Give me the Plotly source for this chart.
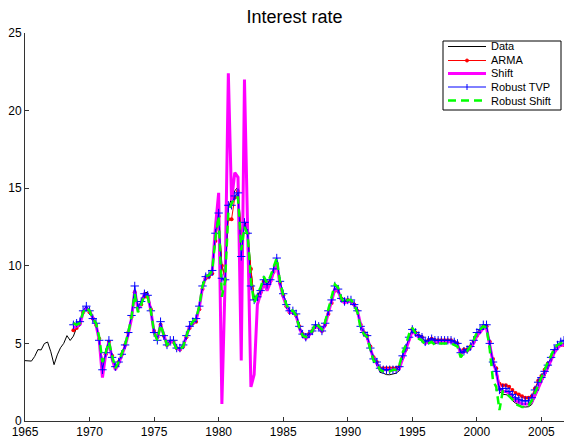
import plotly.graph_objects as go

# ---------------- data (quarterly, first quarter plotted at year.0) ----------------
first_year = 1965
last_year = 2006

data_rate = [
    3.89, 3.87, 3.86, 4.16,   # 1965
    4.60, 4.58, 4.99, 5.09,   # 1966
    4.46, 3.63, 4.26, 4.72,   # 1967
    5.00, 5.50, 5.19, 5.47,   # 1968
    6.02, 6.12, 7.02, 7.36,   # 1969
    7.20, 6.65, 6.33, 5.35,   # 1970
    3.84, 4.25, 5.01, 4.23,   # 1971
    3.44, 3.75, 4.24, 4.85,   # 1972
    5.64, 6.61, 8.39, 7.47,   # 1973
    7.60, 8.27, 8.29, 7.34,   # 1974
    5.88, 5.40, 6.34, 5.68,   # 1975
    4.95, 5.17, 5.17, 4.70,   # 1976
    4.62, 4.84, 5.50, 6.11,   # 1977
    6.39, 6.48, 7.32, 8.68,   # 1978
    9.36, 9.37, 9.63, 11.80,  # 1979
    13.46, 10.05, 9.24, 13.71,  # 1980
    14.37, 14.83, 15.09, 12.02,  # 1981
    12.89, 12.36, 9.71, 7.93,  # 1982
    8.08, 8.42, 9.19, 8.79,   # 1983
    9.13, 9.84, 10.34, 8.97,  # 1984
    8.18, 7.52, 7.10, 7.15,   # 1985
    6.89, 6.13, 5.53, 5.34,   # 1986
    5.53, 5.73, 6.03, 6.00,   # 1987
    5.76, 6.23, 6.99, 7.70,   # 1988
    8.53, 8.44, 7.85, 7.64,   # 1989
    7.76, 7.77, 7.49, 7.02,   # 1990
    6.05, 5.59, 5.41, 4.58,   # 1991
    3.91, 3.72, 3.13, 3.08,   # 1992
    2.99, 2.98, 3.02, 3.08,   # 1993
    3.25, 4.04, 4.51, 5.28,   # 1994
    5.78, 5.62, 5.38, 5.27,   # 1995
    4.95, 5.04, 5.14, 4.97,   # 1996
    5.06, 5.07, 5.06, 5.09,   # 1997
    5.08, 5.01, 4.88, 4.31,   # 1998
    4.42, 4.46, 4.70, 5.03,   # 1999
    5.52, 5.71, 6.02, 6.02,   # 2000
    4.82, 3.66, 3.17, 1.91,   # 2001
    1.72, 1.70, 1.63, 1.32,   # 2002
    1.15, 1.04, 0.92, 0.90,   # 2003
    0.92, 1.06, 1.49, 2.01,   # 2004
    2.51, 2.86, 3.36, 3.83,   # 2005
    4.38, 4.70, 4.91, 4.91,   # 2006
]

# model forecasts start at 1968 Q4
model_start = 1968.75

arma = [
    5.85,
    6.0, 6.3, 7.0, 7.2,
    7.0, 6.6, 6.2, 5.3,
    3.6, 4.3, 5.1, 4.2,
    3.5, 3.8, 4.3, 4.9,
    5.7, 6.7, 8.3, 7.3,
    7.5, 8.0, 8.0, 7.2,
    5.8, 5.4, 6.2, 5.5,
    4.9, 5.1, 5.1, 4.7,
    4.6, 4.8, 5.4, 6.0,
    6.3, 6.4, 7.2, 8.5,
    9.2, 9.3, 9.5, 11.6,
    13.2, 10.0, 9.1, 13.0,
    13.0, 14.4, 14.8, 12.0,
    12.6, 12.1, 9.8, 7.9,
    8.0, 8.3, 9.0, 8.7,
    9.0, 9.6, 10.1, 8.9,
    8.1, 7.4, 7.0, 7.0,
    6.8, 6.1, 5.6, 5.4,
    5.6, 5.8, 6.1, 6.1,
    5.8, 6.2, 6.9, 7.6,
    8.4, 8.4, 7.9, 7.7,
    7.8, 7.7, 7.5, 7.1,
    6.2, 5.7, 5.5, 4.8,
    4.1, 3.8, 3.4, 3.4,
    3.4, 3.4, 3.4, 3.4,
    3.5, 4.1, 4.6, 5.3,
    5.9, 5.7, 5.5, 5.4,
    5.1, 5.2, 5.3, 5.2,
    5.2, 5.2, 5.2, 5.2,
    5.2, 5.1, 5.0, 4.5,
    4.6, 4.6, 4.8, 5.1,
    5.5, 5.8, 6.1, 6.1,
    5.1, 4.0, 3.4, 2.4,
    2.3, 2.3, 2.2, 2.0,
    1.8, 1.7, 1.6, 1.5,
    1.5, 1.6, 2.1, 2.6,
    2.9, 3.3, 3.7, 4.1,
    4.5, 4.8, 4.9, 4.9,
]

shift = [
    6.0,
    6.1, 6.2, 7.0, 7.3,
    7.1, 6.6, 6.2, 5.2,
    2.8, 4.3, 5.1, 4.0,
    3.3, 3.7, 4.2, 4.8,
    5.6, 6.6, 8.4, 7.2,
    7.6, 8.2, 8.1, 7.1,
    5.7, 5.3, 6.2, 5.6,
    4.9, 5.1, 5.1, 4.7,
    4.6, 4.8, 5.4, 6.1,
    6.3, 6.5, 7.3, 8.6,
    9.3, 9.4, 9.6, 12.5,
    14.7, 1.1, 9.0, 22.4,
    14.2, 16.0, 15.7, 3.9,
    22.0, 12.0, 2.2, 3.0,
    7.5, 8.2, 8.9, 8.4,
    8.9, 9.6, 10.2, 8.8,
    8.0, 7.4, 7.0, 7.0,
    6.8, 6.0, 5.5, 5.3,
    5.5, 5.8, 6.1, 6.0,
    5.8, 6.2, 7.0, 7.7,
    8.5, 8.4, 7.8, 7.6,
    7.7, 7.7, 7.5, 7.1,
    6.2, 5.6, 5.4, 4.7,
    4.0, 3.7, 3.3, 3.3,
    3.3, 3.3, 3.3, 3.3,
    3.4, 4.0, 4.5, 5.2,
    5.8, 5.6, 5.4, 5.3,
    5.0, 5.1, 5.2, 5.1,
    5.1, 5.1, 5.1, 5.1,
    5.1, 5.0, 4.9, 4.4,
    4.5, 4.5, 4.7, 5.0,
    5.5, 5.7, 6.0, 6.0,
    4.9, 3.8, 3.2, 2.1,
    1.9, 1.9, 1.8, 1.5,
    1.3, 1.2, 1.1, 1.1,
    1.1, 1.2, 1.6, 2.1,
    2.6, 3.0, 3.4, 3.9,
    4.4, 4.7, 4.9, 4.9,
]

robust_tvp = [
    6.2,
    6.3, 6.4, 7.1, 7.4,
    7.1, 6.6, 6.3, 5.2,
    3.3, 4.4, 5.2, 4.1,
    3.5, 3.8, 4.3, 4.9,
    5.7, 6.8, 8.7, 7.3,
    7.7, 8.2, 8.1, 7.1,
    5.7, 5.2, 6.4, 5.5,
    4.9, 5.2, 5.2, 4.7,
    4.7, 4.9, 5.5, 6.1,
    6.4, 6.6, 7.4, 8.7,
    9.3, 9.4, 9.7, 12.1,
    13.4, 9.2, 9.1, 13.9,
    13.9, 14.5, 14.7, 10.6,
    12.8, 12.1, 8.7, 7.8,
    8.0, 8.4, 9.1, 8.8,
    9.1, 9.8, 10.5, 9.0,
    8.2, 7.5, 7.1, 7.1,
    6.9, 6.1, 5.6, 5.4,
    5.6, 5.8, 6.2, 6.1,
    5.8, 6.3, 7.1, 7.8,
    8.7, 8.5, 7.9, 7.7,
    7.8, 7.8, 7.5, 7.1,
    6.1, 5.7, 5.5, 4.7,
    4.0, 3.8, 3.4, 3.3,
    3.3, 3.3, 3.3, 3.3,
    3.5, 4.2, 4.7, 5.4,
    5.9, 5.7, 5.5, 5.4,
    5.1, 5.2, 5.3, 5.2,
    5.2, 5.2, 5.2, 5.2,
    5.2, 5.1, 5.0, 4.4,
    4.5, 4.6, 4.8, 5.2,
    5.7, 5.9, 6.2, 6.2,
    5.0, 3.8, 3.2, 2.0,
    2.1, 2.1, 1.9, 1.7,
    1.5, 1.4, 1.3, 1.3,
    1.3, 1.5, 2.0, 2.5,
    2.8, 3.2, 3.6, 4.1,
    4.6, 4.9, 5.1, 5.2,
]

robust_shift = [
    6.3,
    6.2, 6.3, 7.0, 7.3,
    7.1, 6.6, 6.3, 5.4,
    3.8, 4.4, 5.1, 4.2,
    3.4, 3.8, 4.3, 4.9,
    5.7, 6.7, 8.2, 7.0,
    7.5, 8.1, 8.0, 7.1,
    5.7, 5.2, 6.2, 5.5,
    4.9, 5.1, 5.1, 4.6,
    4.6, 4.8, 5.5, 6.1,
    6.4, 6.6, 7.4, 8.7,
    9.3, 9.4, 9.7, 11.8,
    13.2, 8.0, 9.0, 13.5,
    14.0, 14.4, 14.4, 11.0,
    12.5, 12.0, 9.0, 7.6,
    8.2, 8.6, 9.3, 8.9,
    9.3, 9.9, 10.5, 9.0,
    8.1, 7.5, 7.1, 7.1,
    6.8, 6.0, 5.5, 5.4,
    5.6, 5.8, 6.3, 6.1,
    5.9, 6.4, 7.2, 7.9,
    8.8, 8.6, 7.9, 7.6,
    7.8, 7.8, 7.5, 7.0,
    6.0, 5.6, 5.4, 4.6,
    3.9, 3.7, 3.3, 3.2,
    3.2, 3.2, 3.3, 3.3,
    3.6, 4.4, 4.9, 5.6,
    6.0, 5.6, 5.3, 5.2,
    4.9, 5.0, 5.1, 4.9,
    5.0, 5.0, 5.0, 5.0,
    5.0, 4.9, 4.8, 4.1,
    4.4, 4.5, 4.8, 5.2,
    5.7, 5.9, 6.1, 6.0,
    4.6, 2.6, 2.2, 0.7,
    1.9, 1.8, 1.6, 1.4,
    1.1, 1.0, 0.9, 0.9,
    1.0, 1.3, 1.8, 2.4,
    2.9, 3.3, 3.8, 4.2,
    4.7, 4.9, 5.0, 5.1,
]

x_ticks = [1965, 1970, 1975, 1980, 1985, 1990, 1995, 2000, 2005]
y_ticks = [0, 5, 10, 15, 20, 25]
legend_names = ["Data", "ARMA", "Shift", "Robust TVP", "Robust Shift"]

# quarterly dates
dates = [first_year + i / 4 for i in range(len(data_rate))]
model_dates = [model_start + i / 4 for i in range(len(arma))]

# ---------------- figure ----------------
W, H = 564, 438
ML, MR, MT, MB = 25, 0, 33, 17
PW, PH = W - ML - MR, H - MT - MB

fig = go.Figure()
fig.add_trace(go.Scatter(x=dates, y=data_rate, mode="lines",
                         line=dict(color="black", width=1), name=legend_names[0]))
fig.add_trace(go.Scatter(x=model_dates, y=arma, mode="lines+markers",
                         line=dict(color="#ff0000", width=1),
                         marker=dict(symbol="circle", size=4, color="#ff0000"),
                         name=legend_names[1]))
fig.add_trace(go.Scatter(x=model_dates, y=shift, mode="lines",
                         line=dict(color="#ff00ff", width=3), name=legend_names[2]))
fig.add_trace(go.Scatter(x=model_dates, y=robust_tvp, mode="lines+markers",
                         line=dict(color="#0000ff", width=1),
                         marker=dict(symbol="cross-thin", size=6,
                                     line=dict(color="#0000ff", width=1)),
                         name=legend_names[3]))
fig.add_trace(go.Scatter(x=model_dates, y=robust_shift, mode="lines",
                         line=dict(color="#00ff00", width=2.5, dash="8px,5px"),
                         name=legend_names[4]))

axis_col = "#333333"
fig.update_layout(
    width=W, height=H,
    margin=dict(l=ML, r=MR, t=MT, b=MB),
    paper_bgcolor="white", plot_bgcolor="white",
    showlegend=False,
    font=dict(family="Liberation Sans, Arial, sans-serif", size=12, color="black"),
    title=dict(text="Interest rate", x=0.5, xref="paper", y=1 - 17 / H,
               yref="container", xanchor="center", yanchor="middle",
               font=dict(size=18, color="black")),
    xaxis=dict(range=[1965, 2006.75], tickvals=x_ticks, ticks="inside", ticklen=4,
               tickcolor=axis_col, showline=True, linecolor=axis_col, linewidth=1,
               showgrid=False, zeroline=False, mirror=False),
    yaxis=dict(range=[0, 25], tickvals=y_ticks, ticks="inside", ticklen=4,
               tickcolor=axis_col, showline=True, linecolor=axis_col, linewidth=1,
               showgrid=False, zeroline=False, mirror=False),
)

# ---------------- hand-made legend (MATLAB-style compact box) ----------------
def px(xp):
    return (xp - ML) / PW

def py(yp):
    return (H - MB - yp) / PH

shapes = []
shapes.append(dict(type="rect", xref="paper", yref="paper",
                   x0=px(443), x1=px(561), y0=py(110), y1=py(41),
                   line=dict(color="black", width=1), fillcolor="white", layer="above"))
row_y = [46.5, 60.5, 73.5, 87, 100.5]
styles = [
    dict(color="black", width=1, dash="solid"),
    dict(color="#ff0000", width=1, dash="solid"),
    dict(color="#ff00ff", width=3, dash="solid"),
    dict(color="#0000ff", width=1, dash="solid"),
    dict(color="#00ff00", width=2.5, dash="8px,5px"),
]
annotations = []
for name, yy, st in zip(legend_names, row_y, styles):
    shapes.append(dict(type="line", xref="paper", yref="paper",
                       x0=px(448), x1=px(486), y0=py(yy), y1=py(yy),
                       line=st, layer="above"))
    annotations.append(dict(text=name, xref="paper", yref="paper",
                            x=px(489), y=py(yy), xanchor="left", yanchor="middle",
                            showarrow=False, font=dict(size=11, color="black")))
# ARMA marker sample
shapes.append(dict(type="circle", xref="paper", yref="paper",
                   x0=px(465.5), x1=px(468.5), y0=py(row_y[1] + 1.5), y1=py(row_y[1] - 1.5),
                   fillcolor="#ff0000", line=dict(color="#ff0000", width=1), layer="above"))
# Robust TVP marker sample (+)
shapes.append(dict(type="line", xref="paper", yref="paper",
                   x0=px(467), x1=px(467), y0=py(row_y[3] + 3), y1=py(row_y[3] - 3),
                   line=dict(color="#0000ff", width=1), layer="above"))

fig.update_layout(shapes=shapes, annotations=annotations)

fig.write_html("out.html",
               config={"displayModeBar": False},
               post_script="document.body.style.margin='0';document.body.style.overflow='hidden';")
